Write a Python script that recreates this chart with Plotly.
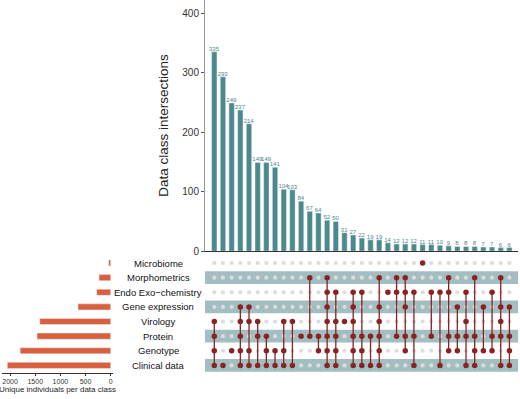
import plotly.graph_objects as go

# ---------------- data ----------------
set_names = ["Clinical data", "Genotype", "Protein", "Virology", "Gene expression",
             "Endo Exo\u2212chemistry", "Morphometrics", "Microbiome"]
set_codes = ["C", "G", "P", "V", "GE", "E", "M", "MB"]
set_sizes = [2055, 1800, 1465, 1410, 650, 278, 232, 40]

intersection_sizes = [335, 293, 249, 237, 214, 149, 149, 141, 104, 103, 84, 67, 64, 52, 50,
                      31, 27, 22, 19, 19, 14, 12, 12, 12, 11, 11, 10, 9, 8, 8, 8, 7, 7, 6, 6]
intersection_members = [
    "V,P,G,C", "C", "G", "GE,V,P,G,C", "GE,V,G,C", "V,P,C", "P,G,C", "G,C", "V,G,C", "V,C",
    "P", "M,P", "P,G", "M,E,GE,V,P,G,C", "E,V,P,G,C", "V", "E,GE,V,P,G,C", "E,P,G,C", "P,C",
    "M,GE,V,P,G,C", "E", "M,E,P", "M,E,GE,P,G", "E,P,C", "MB", "E,P", "E,C", "M,E,P,G",
    "GE,P,G", "E,V,P,C", "M,P,G,C", "GE,G", "E,P,G", "M,GE,V,P,C", "GE,P,G,C",
]

# ---------------- styling ----------------
W, H = 520, 399
BAR_COLOR = "#4B898C"
SET_COLOR = "#D9603E"
DOT_ON = "#8A2222"
DOT_OFF = "#DCDCDC"
BAND = "#A2BEC1"
FONT = "Liberation Sans, Arial, sans-serif"

def px_x(p):
    return p / W

def px_y(p):
    return 1 - p / H

n_cols = len(intersection_sizes)
n_rows = len(set_names)
cols = list(range(n_cols))

fig = go.Figure()

# top intersection bars
fig.add_trace(go.Bar(
    x=cols, y=intersection_sizes, marker_color=BAR_COLOR, width=0.62,
    text=[str(v) for v in intersection_sizes], textposition="outside",
    constraintext="none",
    textfont=dict(size=6, color=BAR_COLOR, family=FONT), cliponaxis=False,
    xaxis="x", yaxis="y", showlegend=False, hoverinfo="x+y"))

# matrix dots and connecting lines
off_x, off_y, on_x, on_y = [], [], [], []
lx, ly = [], []
for ci, mem in enumerate(intersection_members):
    codes = mem.split(",")
    idx = sorted(set_codes.index(c) for c in codes)
    for ri in range(n_rows):
        if ri in idx:
            on_x.append(ci); on_y.append(ri)
        else:
            off_x.append(ci); off_y.append(ri)
    if len(idx) > 1:
        lx += [ci, ci, None]
        ly += [idx[0], idx[-1], None]

fig.add_trace(go.Scatter(x=off_x, y=off_y, mode="markers",
                         marker=dict(color=DOT_OFF, size=4.2), xaxis="x2", yaxis="y2",
                         showlegend=False, hoverinfo="skip"))
fig.add_trace(go.Scatter(x=lx, y=ly, mode="lines", line=dict(color=DOT_ON, width=1.3),
                         xaxis="x2", yaxis="y2", showlegend=False, hoverinfo="skip"))
fig.add_trace(go.Scatter(x=on_x, y=on_y, mode="markers",
                         marker=dict(color=DOT_ON, size=5.5), xaxis="x2", yaxis="y2",
                         showlegend=False, hoverinfo="skip"))

# left set-size bars
fig.add_trace(go.Bar(x=set_sizes, y=list(range(n_rows)), orientation="h",
                     marker_color=SET_COLOR, width=0.42, xaxis="x3", yaxis="y3",
                     showlegend=False))

# row bands
shapes = []
for ri in range(n_rows):
    if ri % 2 == 0:
        shapes.append(dict(type="rect", xref="paper", yref="y2",
                           x0=px_x(205), x1=px_x(518), y0=ri - 0.44, y1=ri + 0.44,
                           fillcolor=BAND, line=dict(width=0), layer="below"))

# row labels
annotations = []
for ri, name in enumerate(set_names):
    annotations.append(dict(text=name, xref="paper", yref="y2", x=px_x(158), y=ri,
                            xanchor="center", yanchor="middle", showarrow=False,
                            font=dict(size=9.5, color="#111111", family=FONT)))

x_range = [-1.07, 34.99]
mat_dom = [px_y(378.4), px_y(259.6)]

fig.update_layout(
    width=W, height=H, margin=dict(l=0, r=0, t=0, b=0),
    paper_bgcolor="white", plot_bgcolor="rgba(0,0,0,0)",
    font=dict(family=FONT, color="#222222"),
    bargap=0.3,
    shapes=shapes, annotations=annotations,
    xaxis=dict(domain=[px_x(205), px_x(518)], range=x_range, showticklabels=False,
               showgrid=False, zeroline=False, showline=True, linecolor="#333333",
               linewidth=1, ticks="", anchor="y"),
    yaxis=dict(domain=[px_y(255), 1], range=[0, 422], showgrid=False, zeroline=False,
               showline=True, linecolor="#999999", linewidth=1, ticks="outside",
               ticklen=3, tickcolor="#555555", tickvals=[0, 100, 200, 300, 400],
               tickfont=dict(size=10, color="#333333"),
               title=dict(text="Data class intersections", font=dict(size=13.5, color="#222222"),
                          standoff=10),
               anchor="x"),
    xaxis2=dict(domain=[px_x(205), px_x(518)], range=x_range, visible=False, anchor="y2"),
    yaxis2=dict(domain=mat_dom, range=[-0.5, 7.5], visible=False, anchor="x2"),
    xaxis3=dict(domain=[px_x(2), px_x(113)], range=[2161, -46], showgrid=False,
                zeroline=False, showline=True, linecolor="#333333", linewidth=1,
                ticks="outside", ticklen=2, tickcolor="#333333",
                tickvals=[0, 500, 1000, 1500, 2000],
                tickfont=dict(size=7, color="#333333"),
                title=dict(text="Unique individuals per data class",
                           font=dict(size=8, color="#222222"), standoff=2),
                anchor="y3"),
    yaxis3=dict(domain=mat_dom, range=[-0.5, 7.5], visible=False, anchor="x3"),
)

fig.write_html("out.html", config={"displayModeBar": False},
               post_script="document.body.style.margin='0';")
